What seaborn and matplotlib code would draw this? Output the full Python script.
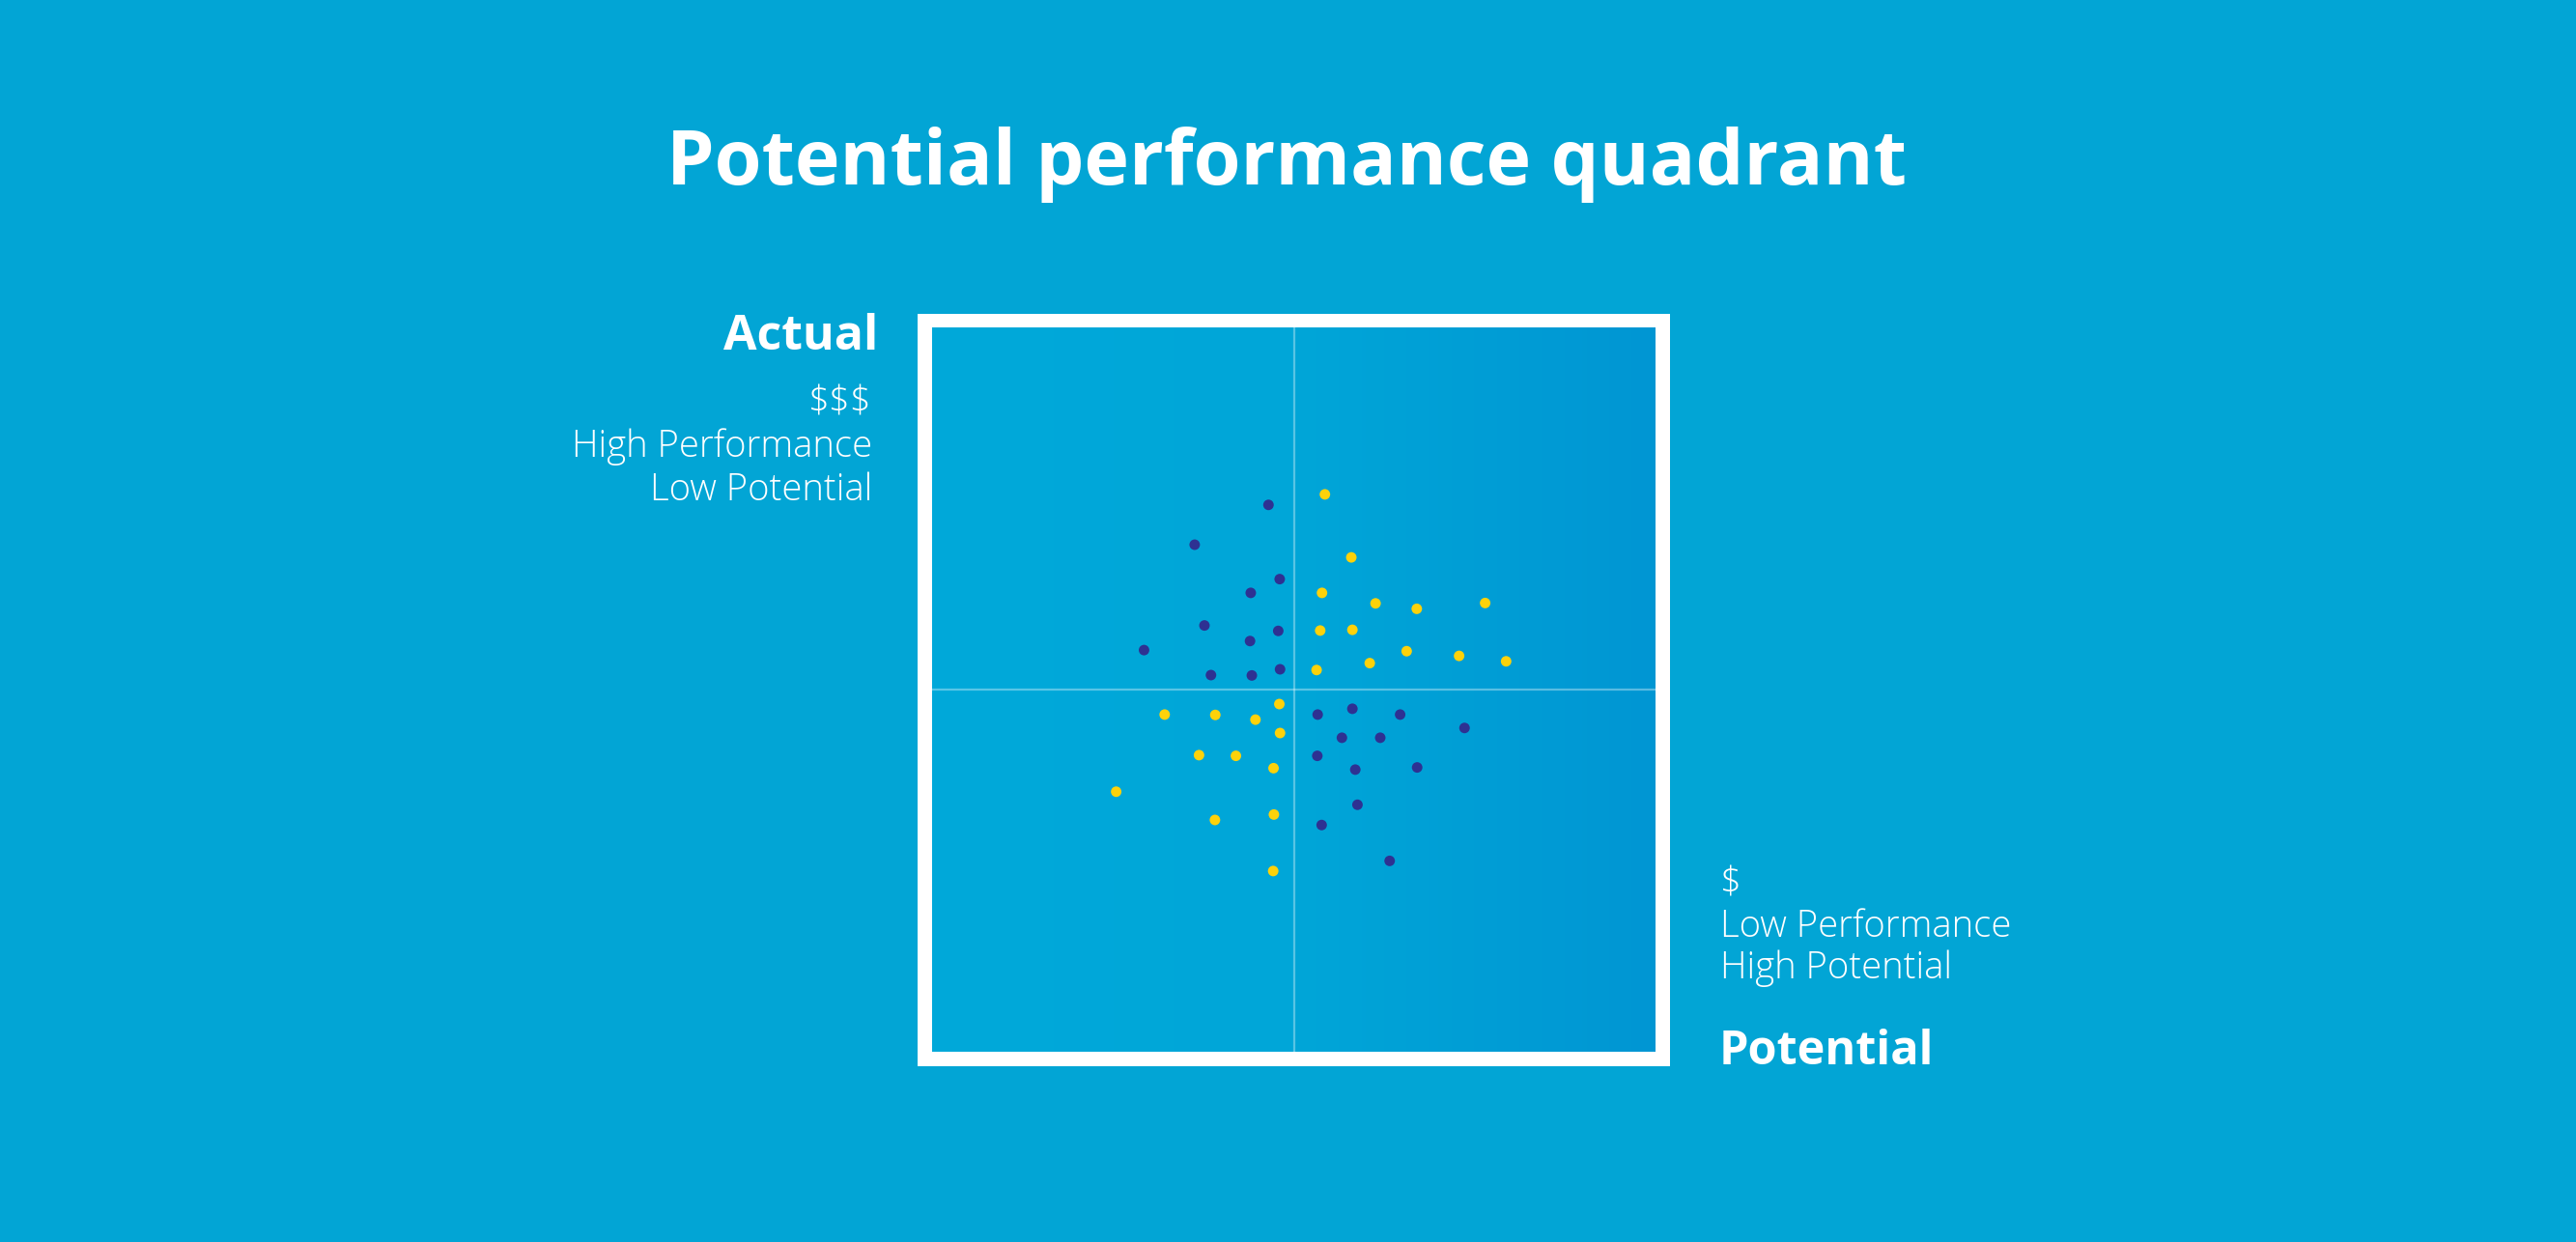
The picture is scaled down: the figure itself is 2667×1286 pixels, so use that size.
import numpy as np
import pandas as pd
import matplotlib.pyplot as plt
import seaborn as sns
from matplotlib.colors import LinearSegmentedColormap
from matplotlib.patches import Rectangle

# =============================================================================
# DATA (axes span -1..1 in both directions)
# =============================================================================
blue_x = [-0.070, -0.274, -0.039, -0.119, -0.247, -0.043, -0.121, -0.414,
          -0.229, -0.116, -0.038, 0.066, 0.162, 0.294, 0.472, 0.133,
          0.239, 0.065, 0.170, 0.341, 0.176, 0.077, 0.265]
blue_y = [0.510, 0.400, 0.305, 0.267, 0.177, 0.162, 0.134, 0.109,
          0.040, 0.039, 0.056, -0.069, -0.053, -0.069, -0.106, -0.133,
          -0.133, -0.183, -0.221, -0.215, -0.318, -0.374, -0.473]

yellow_x = [0.086, 0.159, 0.078, 0.226, 0.340, 0.529, 0.073, 0.162,
            0.312, 0.457, 0.587, 0.063, 0.210, -0.040, -0.357, -0.217,
            -0.106, -0.038, -0.262, -0.160, -0.056, -0.491, -0.218,
            -0.055, -0.057]
yellow_y = [0.539, 0.365, 0.267, 0.238, 0.223, 0.239, 0.163, 0.165,
            0.106, 0.093, 0.078, 0.054, 0.073, -0.040, -0.069, -0.070,
            -0.083, -0.120, -0.181, -0.183, -0.217, -0.282, -0.360,
            -0.345, -0.501]

title = 'Potential performance quadrant'
top_label = 'Actual'
top_lines = ['$$$', 'High Performance', 'Low Potential']
bottom_label = 'Potential'
bottom_lines = ['$', 'Low Performance', 'High Potential']

df = pd.DataFrame({
    'x': blue_x + yellow_x,
    'y': blue_y + yellow_y,
    'group': ['blue'] * len(blue_x) + ['yellow'] * len(yellow_x),
})

# =============================================================================
# STYLE
# =============================================================================
BG = '#02A5D5'
NAVY = '#2E3192'
YELLOW = '#FDD20A'

sns.set_theme(style='white')
plt.rcParams['font.family'] = ['Open Sans', 'DejaVu Sans']

fig = plt.figure(figsize=(26.67, 12.86), dpi=100, facecolor=BG)
W, H = 2667, 1286

# white frame behind the plotting area
fig.patches.append(Rectangle((950 / W, 1 - 1104 / H), 779 / W, 779 / H,
                             transform=fig.transFigure, facecolor='white',
                             edgecolor='none', zorder=0))

ax = fig.add_axes([965 / W, 1 - 1089 / H, 749 / W, 750 / H], zorder=1)

# soft horizontal gradient inside the frame
cmap = LinearSegmentedColormap.from_list(
    'quad', [(0.0, '#00A9DA'), (0.5, '#00A6D8'), (1.0, '#0096D3')])
ax.imshow(np.linspace(0, 1, 256).reshape(1, -1), cmap=cmap, aspect='auto',
          extent=(-1, 1, -1, 1), zorder=0)

ax.axvline(0, color='white', alpha=0.35, lw=1.6, zorder=1)
ax.axhline(0, color='white', alpha=0.35, lw=1.6, zorder=1)

sns.scatterplot(data=df, x='x', y='y', hue='group',
                palette={'blue': NAVY, 'yellow': YELLOW},
                s=62, linewidth=0, legend=False, ax=ax, zorder=2)

ax.set_xlim(-1, 1)
ax.set_ylim(-1, 1)
ax.set_xticks([])
ax.set_yticks([])
ax.set_xlabel('')
ax.set_ylabel('')
for sp in ax.spines.values():
    sp.set_visible(False)

# =============================================================================
# TEXT
# =============================================================================
fig.text(0.4995, 1 - 191 / H, title, ha='center', va='baseline',
         color='white', fontsize=57, fontweight='bold')

fig.text(909 / W, 1 - 362 / H, top_label, ha='right', va='baseline',
         color='white', fontsize=36, fontweight='bold')
for line, base in zip(top_lines, [428, 473, 518]):
    fig.text(903 / W, 1 - base / H, line, ha='right', va='baseline',
             color='white', fontsize=27.5, fontweight='light')

for line, base in zip(bottom_lines, [925, 970, 1013]):
    fig.text(1781 / W, 1 - base / H, line, ha='left', va='baseline',
             color='white', fontsize=27.5, fontweight='light')
fig.text(1780 / W, 1 - 1102 / H, bottom_label, ha='left', va='baseline',
         color='white', fontsize=35, fontweight='bold')

fig.savefig('out.png', dpi=100, facecolor=BG)
